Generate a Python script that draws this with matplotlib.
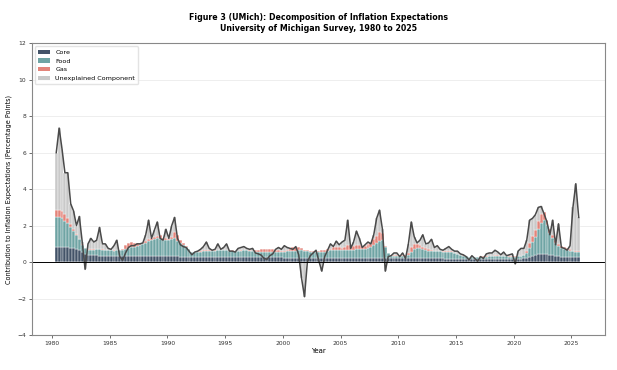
import numpy as np
import pandas as pd
import matplotlib
matplotlib.use("Agg")
import matplotlib.pyplot as plt

# Quarterly readings, 1980Q2 .. 2025Q3 (percentage points)
quarters = pd.period_range("1980Q2", "2025Q3", freq="Q")

total = [
    6.0, 7.35, 6.2,               # 1980
    4.9, 4.9, 3.2, 2.8,           # 1981
    2.0, 2.5, 1.1, -0.4,          # 1982
    1.0, 1.3, 1.1, 1.2,           # 1983
    1.9, 1.0, 1.0, 0.75,          # 1984
    0.7, 0.9, 1.2, 0.3,           # 1985
    0.1, 0.5, 0.8, 0.9,           # 1986
    0.9, 1.0, 1.0, 1.05,          # 1987
    1.5, 2.3, 1.3, 1.75,          # 1988
    2.2, 1.3, 1.2, 1.8,           # 1989
    1.3, 2.0, 2.45, 1.3,          # 1990
    0.95, 0.85, 0.8, 0.6,         # 1991
    0.4, 0.55, 0.6, 0.7,          # 1992
    0.85, 1.1, 0.75, 0.65,        # 1993
    0.7, 1.0, 0.7, 0.8,           # 1994
    1.0, 0.6, 0.6, 0.55,          # 1995
    0.75, 0.8, 0.85, 0.75,        # 1996
    0.7, 0.75, 0.5, 0.45,         # 1997
    0.38, 0.2, 0.15, 0.35,        # 1998
    0.45, 0.7, 0.8, 0.7,          # 1999
    0.9, 0.8, 0.75, 0.7,          # 2000
    0.85, 0.4, -0.9, -1.9,        # 2001
    0.0, 0.35, 0.5, 0.65,         # 2002
    0.05, -0.5, 0.3, 0.65,        # 2003
    1.0, 0.85, 1.15, 0.95,        # 2004
    1.1, 1.2, 2.3, 0.75,          # 2005
    1.1, 1.7, 1.3, 0.8,           # 2006
    0.95, 1.1, 1.0, 1.5,          # 2007
    2.4, 2.85, 1.8, -0.5,         # 2008
    0.3, 0.35, 0.5, 0.5,          # 2009
    0.3, 0.5, 0.2, 1.0,           # 2010
    2.2, 1.4, 1.05, 1.2,          # 2011
    1.5, 1.0, 1.05, 1.25,         # 2012
    0.8, 0.9, 0.7, 0.65,          # 2013
    0.75, 0.85, 0.7, 0.6,         # 2014
    0.6, 0.45, 0.4, 0.3,          # 2015
    0.12, 0.35, 0.2, 0.05,        # 2016
    0.3, 0.2, 0.45, 0.5,          # 2017
    0.5, 0.65, 0.55, 0.4,         # 2018
    0.55, 0.35, 0.4, 0.45,        # 2019
    -0.1, 0.6, 0.75, 0.75,        # 2020
    1.2, 2.3, 2.4, 2.6,           # 2021
    3.0, 3.05, 2.65, 2.2,         # 2022
    1.5, 2.3, 0.95, 2.1,          # 2023
    0.8, 0.75, 0.65, 0.9,         # 2024
    3.0, 4.3, 2.45,               # 2025
]

core = [
    0.85, 0.85, 0.85,
    0.82, 0.8, 0.78, 0.75,
    0.7, 0.65, 0.55, 0.45,
    0.38, 0.38, 0.37, 0.37,
    0.36, 0.36, 0.36, 0.35,
    0.35, 0.35, 0.34, 0.34,
    0.33, 0.33, 0.33, 0.33,
    0.32, 0.32, 0.32, 0.32,
    0.32, 0.32, 0.32, 0.32,
    0.32, 0.32, 0.32, 0.32,
    0.32, 0.32, 0.32, 0.31,
    0.3, 0.3, 0.3, 0.29,
    0.28, 0.28, 0.27, 0.27,
    0.27, 0.27, 0.27, 0.27,
    0.27, 0.27, 0.27, 0.27,
    0.27, 0.27, 0.27, 0.27,
    0.27, 0.27, 0.27, 0.27,
    0.26, 0.26, 0.26, 0.26,
    0.26, 0.26, 0.26, 0.26,
    0.26, 0.26, 0.26, 0.26,
    0.25, 0.25, 0.25, 0.25,
    0.25, 0.25, 0.24, 0.24,
    0.24, 0.24, 0.24, 0.24,
    0.24, 0.24, 0.24, 0.24,
    0.24, 0.24, 0.24, 0.24,
    0.24, 0.24, 0.24, 0.24,
    0.24, 0.24, 0.24, 0.24,
    0.24, 0.24, 0.24, 0.24,
    0.25, 0.25, 0.24, 0.22,
    0.2, 0.2, 0.2, 0.2,
    0.2, 0.2, 0.2, 0.2,
    0.2, 0.2, 0.2, 0.2,
    0.2, 0.2, 0.2, 0.2,
    0.2, 0.2, 0.2, 0.2,
    0.19, 0.19, 0.19, 0.19,
    0.19, 0.19, 0.18, 0.18,
    0.18, 0.18, 0.18, 0.18,
    0.18, 0.18, 0.18, 0.18,
    0.18, 0.18, 0.18, 0.18,
    0.18, 0.18, 0.18, 0.18,
    0.18, 0.18, 0.18, 0.2,
    0.22, 0.28, 0.33, 0.38,
    0.42, 0.45, 0.45, 0.42,
    0.4, 0.37, 0.35, 0.33,
    0.3, 0.3, 0.3, 0.3,
    0.28, 0.28, 0.28,
]

food = [
    1.6, 1.6, 1.55,
    1.45, 1.35, 1.15, 0.95,
    0.8, 0.6, 0.4, 0.3,
    0.3, 0.3, 0.3, 0.32,
    0.33, 0.32, 0.3, 0.3,
    0.3, 0.28, 0.3, 0.3,
    0.35, 0.4, 0.45, 0.5,
    0.5, 0.55, 0.6, 0.65,
    0.75, 0.85, 0.9, 0.95,
    1.0, 0.95, 0.9, 0.9,
    0.9, 0.95, 1.0, 0.85,
    0.75, 0.65, 0.55, 0.4,
    0.25, 0.25, 0.3, 0.3,
    0.35, 0.35, 0.35, 0.35,
    0.35, 0.38, 0.38, 0.38,
    0.38, 0.35, 0.35, 0.32,
    0.32, 0.35, 0.38, 0.38,
    0.35, 0.32, 0.3, 0.28,
    0.28, 0.28, 0.28, 0.28,
    0.28, 0.28, 0.3, 0.3,
    0.32, 0.35, 0.35, 0.35,
    0.38, 0.4, 0.4, 0.38,
    0.35, 0.32, 0.3, 0.3,
    0.3, 0.3, 0.32, 0.35,
    0.4, 0.42, 0.42, 0.42,
    0.4, 0.4, 0.42, 0.42,
    0.42, 0.45, 0.45, 0.48,
    0.5, 0.55, 0.6, 0.7,
    0.8, 0.9, 0.95, 0.6,
    0.3, 0.15, 0.12, 0.12,
    0.12, 0.12, 0.15, 0.2,
    0.35, 0.5, 0.55, 0.55,
    0.5, 0.45, 0.42, 0.4,
    0.38, 0.38, 0.38, 0.35,
    0.35, 0.35, 0.35, 0.3,
    0.25, 0.2, 0.18, 0.15,
    0.1, 0.08, 0.08, 0.1,
    0.12, 0.12, 0.12, 0.15,
    0.15, 0.18, 0.18, 0.15,
    0.15, 0.15, 0.12, 0.12,
    0.12, 0.15, 0.15, 0.18,
    0.3, 0.5, 0.75, 1.0,
    1.4, 1.7, 1.85, 1.6,
    1.2, 0.95, 0.7, 0.55,
    0.45, 0.4, 0.35, 0.32,
    0.3, 0.28, 0.28,
]

gas = [
    0.4, 0.4, 0.38,
    0.35, 0.25, 0.15, 0.1,
    0.05, 0.03, 0.02, 0.02,
    0.02, 0.02, 0.02, 0.02,
    0.02, 0.02, 0.02, 0.02,
    0.02, 0.02, 0.02, 0.02,
    0.05, 0.2, 0.25, 0.25,
    0.22, 0.2, 0.15, 0.1,
    0.1, 0.1, 0.08, 0.08,
    0.1, 0.2, 0.1, 0.08,
    0.05, 0.1, 0.35, 0.3,
    0.15, 0.08, 0.05, 0.05,
    0.03, 0.03, 0.03, 0.03,
    0.03, 0.03, 0.03, 0.03,
    0.03, 0.03, 0.03, 0.03,
    0.03, 0.03, 0.03, 0.03,
    0.03, 0.03, 0.03, 0.03,
    0.05, 0.05, 0.1, 0.12,
    0.15, 0.2, 0.2, 0.2,
    0.18, 0.12, 0.08, 0.05,
    0.05, 0.08, 0.15, 0.2,
    0.2, 0.18, 0.12, 0.05,
    0.05, 0.05, 0.05, 0.05,
    0.08, 0.1, 0.1, 0.1,
    0.1, 0.15, 0.15, 0.15,
    0.15, 0.2, 0.3, 0.25,
    0.2, 0.25, 0.25, 0.15,
    0.15, 0.18, 0.2, 0.3,
    0.4, 0.5, 0.4, 0.05,
    0.02, 0.05, 0.05, 0.05,
    0.05, 0.05, 0.05, 0.1,
    0.25, 0.3, 0.25, 0.2,
    0.15, 0.12, 0.1, 0.08,
    0.05, 0.05, 0.05, 0.05,
    0.05, 0.05, 0.05, 0.03,
    0.02, 0.02, 0.02, 0.02,
    0.02, 0.02, 0.02, 0.02,
    0.02, 0.02, 0.02, 0.02,
    0.02, 0.02, 0.02, 0.02,
    0.02, 0.02, 0.02, 0.02,
    0.02, 0.02, 0.02, 0.02,
    0.1, 0.25, 0.35, 0.4,
    0.45, 0.5, 0.45, 0.3,
    0.2, 0.15, 0.15, 0.12,
    0.12, 0.12, 0.1, 0.08,
    0.05, 0.05, 0.05,
]

labels = ["Core", "Food", "Gas", "Unexplained Component"]
colors = ["#2e4057", "#5f9a9a", "#e0776c", "#c4c4c4"]

# decimal year at mid-quarter
x = np.array([q.year + (q.quarter - 1) * 0.25 + 0.125 for q in quarters])
total = np.array(total)
core, food, gas = np.array(core), np.array(food), np.array(gas)
explained = core + food + gas
# residual: above the explained stack when positive, below zero (down to the total) when negative
unexpl_pos = np.clip(total - explained, 0, None)
unexpl_neg = np.clip(total, None, 0)

fig, ax = plt.subplots(figsize=(6.17, 3.7), dpi=100)

bottom = np.zeros(len(x))
for vals, lab, col in zip([core, food, gas, unexpl_pos], labels, colors):
    ax.bar(x, vals, width=0.25, bottom=bottom, color=col, alpha=0.9,
           edgecolor="white", linewidth=0.3, label=lab)
    bottom += vals
ax.bar(x, unexpl_neg, width=0.25, color=colors[3], alpha=0.9,
       edgecolor="white", linewidth=0.3)

ax.plot(x, total, color="#4a4a4a", linewidth=1.1)
ax.axhline(0, color="black", linewidth=0.7)

ax.set_xlim(1978.25, 2027.9)
ax.set_ylim(-4, 12)
ax.set_yticks(np.arange(-4, 13, 2))
ax.set_xticks(np.arange(1980, 2026, 5))
ax.grid(axis="y", color="#eeeeee", linewidth=0.7)
ax.set_axisbelow(True)
for s in ax.spines.values():
    s.set_color("#888888")
    s.set_linewidth(0.8)
ax.tick_params(labelsize=4.3, length=2, width=0.5, pad=2, colors="#333333")

ax.set_xlabel("Year", fontsize=5, labelpad=2)
ax.set_ylabel("Contribution to Inflation Expectations (Percentage Points)", fontsize=4.7, labelpad=4)
ax.set_title("Figure 3 (UMich): Decomposition of Inflation Expectations\n"
             "University of Michigan Survey, 1980 to 2025",
             fontsize=5.7, fontweight="bold", pad=9)
leg = ax.legend(loc="upper left", fontsize=4.6, frameon=True, handlelength=1.9,
                borderpad=0.5, labelspacing=0.5, edgecolor="#dddddd")
for h in leg.legend_handles:
    h.set_linewidth(0)

plt.subplots_adjust(left=0.0514, right=0.9805, top=0.883, bottom=0.0946)
plt.savefig("out.png", dpi=100)
